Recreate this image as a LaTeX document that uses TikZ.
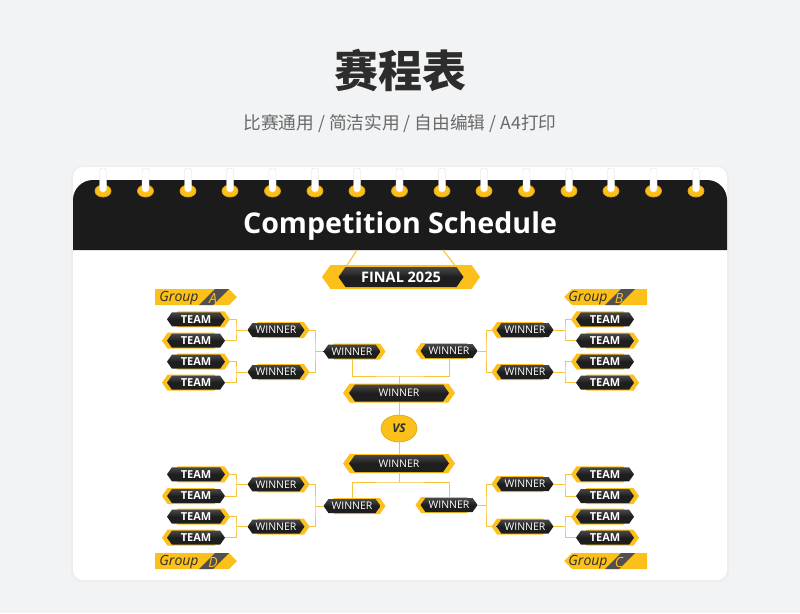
\documentclass[tikz,border=0pt]{standalone}
\usepackage{fontspec}
\setmainfont{Open Sans}
\newfontfamily\cjk{Noto Sans CJK SC}
\usetikzlibrary{shapes.symbols,shapes.geometric}
\definecolor{pagegray}{RGB}{242,243,245}
\definecolor{headblack}{RGB}{27,27,27}
\definecolor{badgedark}{RGB}{30,30,30}
\definecolor{badgetop}{RGB}{72,72,72}
\definecolor{badgeyellow}{RGB}{252,192,26}
\definecolor{ringdark}{RGB}{222,162,20}
\definecolor{linkyellow}{RGB}{247,196,60}
\definecolor{bandgray}{RGB}{80,80,80}
\definecolor{titlegray}{RGB}{45,45,45}
\definecolor{subgray}{RGB}{105,105,105}

\begin{document}
\begin{tikzpicture}[x=1pt, y=-1pt,
    link/.style={draw=linkyellow, line width=0.9pt},
    ring/.style={fill=badgeyellow, draw=ringdark, line width=0.8pt},
    ringbar/.style={fill=white, draw=black!15, line width=0.3pt, rounded corners=3pt},
    badge/.style={signal, signal to=east and west, signal pointer angle=110, inner sep=0pt, text=white},
    darkbadge/.style={badge, top color=badgetop, bottom color=badgedark, middle color=badgedark},
    team/.style={darkbadge, minimum width=58pt, minimum height=14pt, font=\bfseries\fontsize{11}{12}\selectfont},
    teamback/.style={badge, fill=badgeyellow, minimum width=58pt, minimum height=16pt},
    win/.style={darkbadge, minimum width=57pt, minimum height=14pt, font=\fontsize{10.5}{11}\selectfont},
    winback/.style={badge, fill=badgeyellow, minimum width=57pt, minimum height=16pt},
    bigwin/.style={darkbadge, minimum width=100pt, minimum height=17pt, font=\fontsize{10.5}{11}\selectfont},
    bigback/.style={badge, fill=badgeyellow, minimum width=112pt, minimum height=19pt},
    grouptext/.style={font=\itshape\fontsize{14}{15}\selectfont, text=titlegray, inner sep=0pt},
    groupletter/.style={font=\itshape\fontsize{14}{15}\selectfont, text=badgeyellow, inner sep=0pt}]
    \useasboundingbox (0,0) rectangle (800,613);
    \fill[pagegray] (0,0) rectangle (800,613);

    % titles
    \node[font=\cjk\bfseries\fontsize{44}{48}\selectfont, text=titlegray] (title) at (400,70) {赛程表};
    \node[font=\cjk\fontsize{17.7}{20}\selectfont, text=subgray] (subtitle) at (400,124) {比赛通用 / 简洁实用 / 自由编辑 / A4打印};

    % card and header
    \fill[black!7, rounded corners=11pt] (71,166) rectangle (729,582);
    \fill[white, rounded corners=10pt] (73,167) rectangle (727,580);
    \fill[headblack] (73,250) [rounded corners=20pt] -- (73,180) -- (727,180) [sharp corners] -- (727,250) -- cycle;
    \node[font=\bfseries\fontsize{28.6}{32}\selectfont, text=white] (head) at (400,226) {Competition Schedule};

    % rings
    \draw[ring] (103,191) ellipse (8 and 6); \fill[ringbar] (99.5,168) rectangle (106.5,192);
    \draw[ring] (145.5,191) ellipse (8 and 6); \fill[ringbar] (142,168) rectangle (149,192);
    \draw[ring] (188,191) ellipse (8 and 6); \fill[ringbar] (184.5,168) rectangle (191.5,192);
    \draw[ring] (230,191) ellipse (8 and 6); \fill[ringbar] (226.5,168) rectangle (233.5,192);
    \draw[ring] (272.5,191) ellipse (8 and 6); \fill[ringbar] (269,168) rectangle (276,192);
    \draw[ring] (315,191) ellipse (8 and 6); \fill[ringbar] (311.5,168) rectangle (318.5,192);
    \draw[ring] (357,191) ellipse (8 and 6); \fill[ringbar] (353.5,168) rectangle (360.5,192);
    \draw[ring] (399.5,191) ellipse (8 and 6); \fill[ringbar] (396,168) rectangle (403,192);
    \draw[ring] (442,191) ellipse (8 and 6); \fill[ringbar] (438.5,168) rectangle (445.5,192);
    \draw[ring] (484,191) ellipse (8 and 6); \fill[ringbar] (480.5,168) rectangle (487.5,192);
    \draw[ring] (526.5,191) ellipse (8 and 6); \fill[ringbar] (523,168) rectangle (530,192);
    \draw[ring] (569,191) ellipse (8 and 6); \fill[ringbar] (565.5,168) rectangle (572.5,192);
    \draw[ring] (611,191) ellipse (8 and 6); \fill[ringbar] (607.5,168) rectangle (614.5,192);
    \draw[ring] (653.5,191) ellipse (8 and 6); \fill[ringbar] (650,168) rectangle (657,192);
    \draw[ring] (696,191) ellipse (8 and 6); \fill[ringbar] (692.5,168) rectangle (699.5,192);

    % final banner
    \node[badge, fill=badgeyellow, minimum width=158pt, minimum height=24pt] at (401,277) {};
    \node[darkbadge, minimum width=125pt, minimum height=20pt, font=\bfseries\fontsize{14.5}{16}\selectfont] (fin) at (401,277) {FINAL 2025};
    \coordinate (hangL) at (357,250);
    \coordinate (hangR) at (443,250);
    \draw[link, line width=1.1pt] (hangL) -- ([xshift=-55pt]fin.north);
    \draw[link, line width=1.1pt] (hangR) -- ([xshift=55pt]fin.north);

    % group labels
    \fill[badgeyellow] (155,289) -- (229,289) -- (237,297) -- (229,305) -- (155,305) -- cycle;
    \fill[bandgray] (199,305) -- (215,289) -- (229,289) -- (213,305) -- cycle;
    \node[grouptext] (gA) at (179,298) {Group};
    \node[groupletter] (gAl) at (213,298.5) {A};
    \fill[badgeyellow] (564,297) -- (572,289) -- (647,289) -- (647,305) -- (572,305) -- cycle;
    \fill[bandgray] (605,305) -- (621,289) -- (635,289) -- (619,305) -- cycle;
    \node[grouptext] (gB) at (588,298) {Group};
    \node[groupletter] (gBl) at (619,298.5) {B};
    \fill[badgeyellow] (155,553) -- (229,553) -- (237,561) -- (229,569) -- (155,569) -- cycle;
    \fill[bandgray] (199,569) -- (215,553) -- (229,553) -- (213,569) -- cycle;
    \node[grouptext] (gD) at (179,562) {Group};
    \node[groupletter] (gDl) at (213,562.5) {D};
    \fill[badgeyellow] (564,561) -- (572,553) -- (647,553) -- (647,569) -- (572,569) -- cycle;
    \fill[bandgray] (605,569) -- (621,553) -- (635,553) -- (619,569) -- cycle;
    \node[grouptext] (gC) at (588,562) {Group};
    \node[groupletter] (gCl) at (619,562.5) {C};

    % group A
    \node[teamback] at (201,319.3) {}; \node[team] (tA1) at (196,319.3) {TEAM};
    \node[teamback] at (191,340.7) {}; \node[team] (tA2) at (196,340.7) {TEAM};
    \node[teamback] at (201,361.7) {}; \node[team] (tA3) at (196,361.7) {TEAM};
    \node[teamback] at (191,382.7) {}; \node[team] (tA4) at (196,382.7) {TEAM};
    \node[winback] at (281,330) {}; \node[win] (wA1) at (276,330) {WINNER};
    \node[winback] at (281,372) {}; \node[win] (wA2) at (276,372) {WINNER};
    \node[winback] at (357,351.5) {}; \node[win] (wA3) at (352,351.5) {WINNER};

    % group B
    \node[teamback] at (600,319.3) {}; \node[team] (tB1) at (605,319.3) {TEAM};
    \node[teamback] at (610,340.7) {}; \node[team] (tB2) at (605,340.7) {TEAM};
    \node[teamback] at (600,361.7) {}; \node[team] (tB3) at (605,361.7) {TEAM};
    \node[teamback] at (610,382.7) {}; \node[team] (tB4) at (605,382.7) {TEAM};
    \node[winback] at (520,330) {}; \node[win] (wB1) at (525,330) {WINNER};
    \node[winback] at (520,372) {}; \node[win] (wB2) at (525,372) {WINNER};
    \node[winback] at (444,351) {}; \node[win] (wB3) at (449,351) {WINNER};

    % group D
    \node[teamback] at (201,474.3) {}; \node[team] (tD1) at (196,474.3) {TEAM};
    \node[teamback] at (191,496) {}; \node[team] (tD2) at (196,496) {TEAM};
    \node[teamback] at (201,516.7) {}; \node[team] (tD3) at (196,516.7) {TEAM};
    \node[teamback] at (191,537.7) {}; \node[team] (tD4) at (196,537.7) {TEAM};
    \node[winback] at (281,484.3) {}; \node[win] (wD1) at (276,484.3) {WINNER};
    \node[winback] at (281,526.7) {}; \node[win] (wD2) at (276,526.7) {WINNER};
    \node[winback] at (357,506) {}; \node[win] (wD3) at (352,506) {WINNER};

    % group C
    \node[teamback] at (600,474.3) {}; \node[team] (tC1) at (605,474.3) {TEAM};
    \node[teamback] at (610,496) {}; \node[team] (tC2) at (605,496) {TEAM};
    \node[teamback] at (600,516.7) {}; \node[team] (tC3) at (605,516.7) {TEAM};
    \node[teamback] at (610,537.7) {}; \node[team] (tC4) at (605,537.7) {TEAM};
    \node[winback] at (520,484) {}; \node[win] (wC1) at (525,484) {WINNER};
    \node[winback] at (520,526.5) {}; \node[win] (wC2) at (525,526.5) {WINNER};
    \node[winback] at (444,505) {}; \node[win] (wC3) at (449,505) {WINNER};

    % centre
    \node[bigback] at (399,393) {}; \node[bigwin] (fT) at (399,393) {WINNER};
    \node[bigback] at (399,463.5) {}; \node[bigwin] (fB) at (399,463.5) {WINNER};
    \node[ellipse, minimum width=36pt, minimum height=27pt, inner sep=0pt, fill=badgeyellow, draw=ringdark, line width=0.6pt,
        font=\bfseries\itshape\fontsize{12}{14}\selectfont, text=titlegray] (vs) at (399,428.5) {VS};

    % connectors
    \coordinate (jA1) at (236,330);
    \coordinate (jA2) at (236,372);
    \coordinate (jA3) at (315,351.5);
    \coordinate (jB1) at (565,330);
    \coordinate (jB2) at (565,372);
    \coordinate (jB3) at (486,351);
    \coordinate (jD1) at (236,484.3);
    \coordinate (jD2) at (236,526.7);
    \coordinate (jD3) at (315,506);
    \coordinate (jC1) at (565,484);
    \coordinate (jC2) at (565,526.5);
    \coordinate (jC3) at (486,505);
    \coordinate (jT) at (399,376);
    \coordinate (jB) at (399,482);
    \draw[link] (tA1.east) -| (jA1) |- (tA2.east); \draw[link] (jA1) -- (wA1.west);
    \draw[link] (tA3.east) -| (jA2) |- (tA4.east); \draw[link] (jA2) -- (wA2.west);
    \draw[link] (wA1.east) -| (jA3) |- (wA2.east); \draw[link] (jA3) -- (wA3.west);
    \draw[link] (tB1.west) -| (jB1) |- (tB2.west); \draw[link] (jB1) -- (wB1.east);
    \draw[link] (tB3.west) -| (jB2) |- (tB4.west); \draw[link] (jB2) -- (wB2.east);
    \draw[link] (wB1.west) -| (jB3) |- (wB2.west); \draw[link] (jB3) -- (wB3.east);
    \draw[link] (tD1.east) -| (jD1) |- (tD2.east); \draw[link] (jD1) -- (wD1.west);
    \draw[link] (tD3.east) -| (jD2) |- (tD4.east); \draw[link] (jD2) -- (wD2.west);
    \draw[link] (wD1.east) -| (jD3) |- (wD2.east); \draw[link] (jD3) -- (wD3.west);
    \draw[link] (tC1.west) -| (jC1) |- (tC2.west); \draw[link] (jC1) -- (wC1.east);
    \draw[link] (tC3.west) -| (jC2) |- (tC4.west); \draw[link] (jC2) -- (wC2.east);
    \draw[link] (wC1.west) -| (jC3) |- (wC2.west); \draw[link] (jC3) -- (wC3.east);
    \draw[link] (wA3.south) |- (jT) -| (wB3.south); \draw[link] (jT) -- (fT.north);
    \draw[link] (fT.south) -- (vs.north); \draw[link] (vs.south) -- (fB.north);
    \draw[link] (wD3.north) |- (jB) -| (wC3.north); \draw[link] (jB) -- (fB.south);
\end{tikzpicture}
\end{document}
